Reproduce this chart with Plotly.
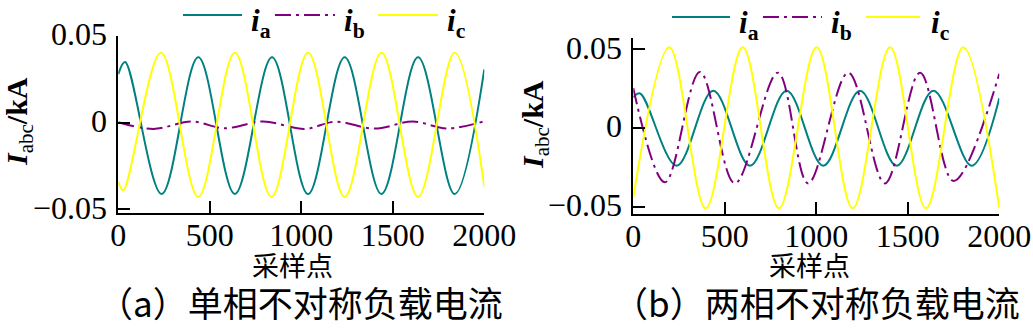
import plotly.graph_objects as go
from plotly.subplots import make_subplots

# ---- sampled phase currents (kA): extrema read per cycle, sample index on x ----
# (a) single-phase unbalanced load
ia_a_x = [0, 37, 237, 437, 637, 840, 1037, 1237, 1438, 1638, 1838, 2000]
ia_a_y = [0.028, 0.035, -0.0411, 0.0377, -0.0411, 0.0377, -0.0411, 0.0377, -0.0411, 0.0377, -0.0411, 0.0308]
ib_a_x = [0, 191, 400, 580, 792, 1020, 1185, 1401, 1610, 1793, 2000]
ib_a_y = [0.0003, -0.0036, 0.0007, -0.0032, 0.0007, -0.0036, 0.0006, -0.0034, 0.0007, -0.0033, 0.0008]
ic_a_x = [0, 27, 233, 437, 637, 837, 1037, 1237, 1438, 1638, 1838, 2000]
ic_a_y = [-0.034, -0.039, 0.0404, -0.0427, 0.0404, -0.0427, 0.0404, -0.0427, 0.0404, -0.0427, 0.0404, -0.0369]

# (b) two-phase unbalanced load
ia_b_x = [0, 37, 237, 437, 638, 838, 1038, 1239, 1439, 1640, 1849, 2000]
ia_b_y = [0.0196, 0.022, -0.0238, 0.0238, -0.0238, 0.0238, -0.0238, 0.0238, -0.0238, 0.0238, -0.0238, 0.019]
ib_b_x = [0, 173, 364, 555, 790, 955, 1175, 1375, 1567, 1750, 2000]
ib_b_y = [0.0253, -0.0343, 0.0357, -0.035, 0.0352, -0.035, 0.0352, -0.035, 0.0352, -0.0335, 0.0345]
ic_b_x = [0, 197, 396, 598, 796, 1002, 1199, 1403, 1599, 1803, 2000]
ic_b_y = [-0.044, 0.0513, -0.0508, 0.0513, -0.0508, 0.0513, -0.0508, 0.0513, -0.0508, 0.0513, -0.0508]

x_ticks = [0, 500, 1000, 1500, 2000]
x_tick_text = ["0", "500", "1000", "1500", "2000"]
y_ticks = [-0.05, 0, 0.05]
y_tick_text = ["\u22120.05", "0", "0.05"]

captions = ["（a）单相不对称负载电流", "（b）两相不对称负载电流"]
x_title = "采样点"

TEAL = "#008080"
PURPLE = "#800080"
YELLOW = "#FFFF00"
DASHDOT = "16px,5px,3px,5px"

W, H = 1033, 330
SERIF = "Liberation Serif, Times New Roman, serif"
CJK = "Noto Sans CJK SC"


def px(x):
    return x / W


def py(y):
    return 1 - y / H


fig = make_subplots(rows=1, cols=2)

panels = [
    (1, [(ia_a_x, ia_a_y, TEAL, "solid"), (ib_a_x, ib_a_y, PURPLE, DASHDOT), (ic_a_x, ic_a_y, YELLOW, "solid")]),
    (2, [(ia_b_x, ia_b_y, TEAL, "solid"), (ib_b_x, ib_b_y, PURPLE, DASHDOT), (ic_b_x, ic_b_y, YELLOW, "solid")]),
]
names = ["i<sub>a</sub>", "i<sub>b</sub>", "i<sub>c</sub>"]
for col, series in panels:
    for (xs, ys, color, dash), nm in zip(series, names):
        fig.add_trace(
            go.Scatter(
                x=xs, y=ys, mode="lines", name=nm, showlegend=False,
                line=dict(color=color, width=2, dash=dash, shape="spline", smoothing=1.0),
            ),
            row=1, col=col,
        )

axis_common = dict(
    showline=True, linewidth=2, linecolor="black", mirror=False,
    ticks="inside", ticklen=12, tickwidth=2, tickcolor="black",
    showgrid=False, zeroline=False, automargin=False,
    tickfont=dict(family=SERIF, size=32, color="black"),
)

# plot areas in pixels: (left, right, top, bottom)
areas = [(118.3, 484.3, 35.5, 212.7), (633.3, 999.3, 38.3, 213.5)]
y_ranges = [[-0.0519, 0.0503], [-0.0541, 0.0570]]

for i, ((l, r, t, b), yr) in enumerate(zip(areas, y_ranges), start=1):
    fig.update_xaxes(
        domain=[px(l), px(r)], range=[0, 2000],
        tickvals=x_ticks, ticktext=x_tick_text, ticklabelstandoff=-7,
        row=1, col=i, **axis_common,
    )
    fig.update_yaxes(
        domain=[py(b), py(t)], range=yr,
        tickvals=y_ticks, ticktext=y_tick_text, ticklabelstandoff=3,
        ticklabelshift=-2,
        row=1, col=i, **axis_common,
    )

annotations = []
shapes = []

# legends drawn as short line samples with labels above each panel
legend_layout = [
    (15, [(183, 242, 249), (275, 335, 342), (378, 438, 445)]),
    (17, [(672, 730, 737), (763, 822, 829), (866, 920, 929)]),
]
colors = [TEAL, PURPLE, YELLOW]
dashes = ["solid", DASHDOT, "solid"]
subs = ["a", "b", "c"]
for ly, items in legend_layout:
    for (x0, x1, tx), c, d, s in zip(items, colors, dashes, subs):
        shapes.append(dict(type="line", xref="paper", yref="paper",
                           x0=px(x0), x1=px(x1), y0=py(ly), y1=py(ly),
                           line=dict(color=c, width=2, dash=d)))
        annotations.append(dict(
            xref="paper", yref="paper", x=px(tx), y=py(ly + 8),
            xanchor="left", yanchor="middle", showarrow=False,
            text=f"<b><i>i</i></b><sub><b>{s}</b></sub>",
            font=dict(family=SERIF, size=31, color="black"),
        ))

# y-axis titles
for xc, yc in [(19, 122), (535, 125)]:
    annotations.append(dict(
        xref="paper", yref="paper", x=px(xc), y=py(yc),
        xanchor="center", yanchor="middle", showarrow=False, textangle=-90,
        text="<b><i>I</i></b><sub>abc</sub><b>/kA</b>",
        font=dict(family=SERIF, size=30, color="black"),
    ))

# x-axis titles and panel captions
for xc in [292, 809]:
    annotations.append(dict(
        xref="paper", yref="paper", x=px(xc), y=py(264),
        xanchor="center", yanchor="middle", showarrow=False,
        text=x_title, font=dict(family=CJK, size=27, color="black"),
    ))
for xc, cap in zip([300, 816], captions):
    annotations.append(dict(
        xref="paper", yref="paper", x=px(xc), y=py(301),
        xanchor="center", yanchor="middle", showarrow=False,
        text=cap, font=dict(family=CJK, size=35, color="black"),
    ))

fig.update_layout(
    width=W, height=H,
    margin=dict(l=0, r=0, t=0, b=0),
    paper_bgcolor="white", plot_bgcolor="white",
    font=dict(family=SERIF, color="black"),
    showlegend=False,
    annotations=annotations, shapes=shapes,
)

fig.write_html("out.html")
